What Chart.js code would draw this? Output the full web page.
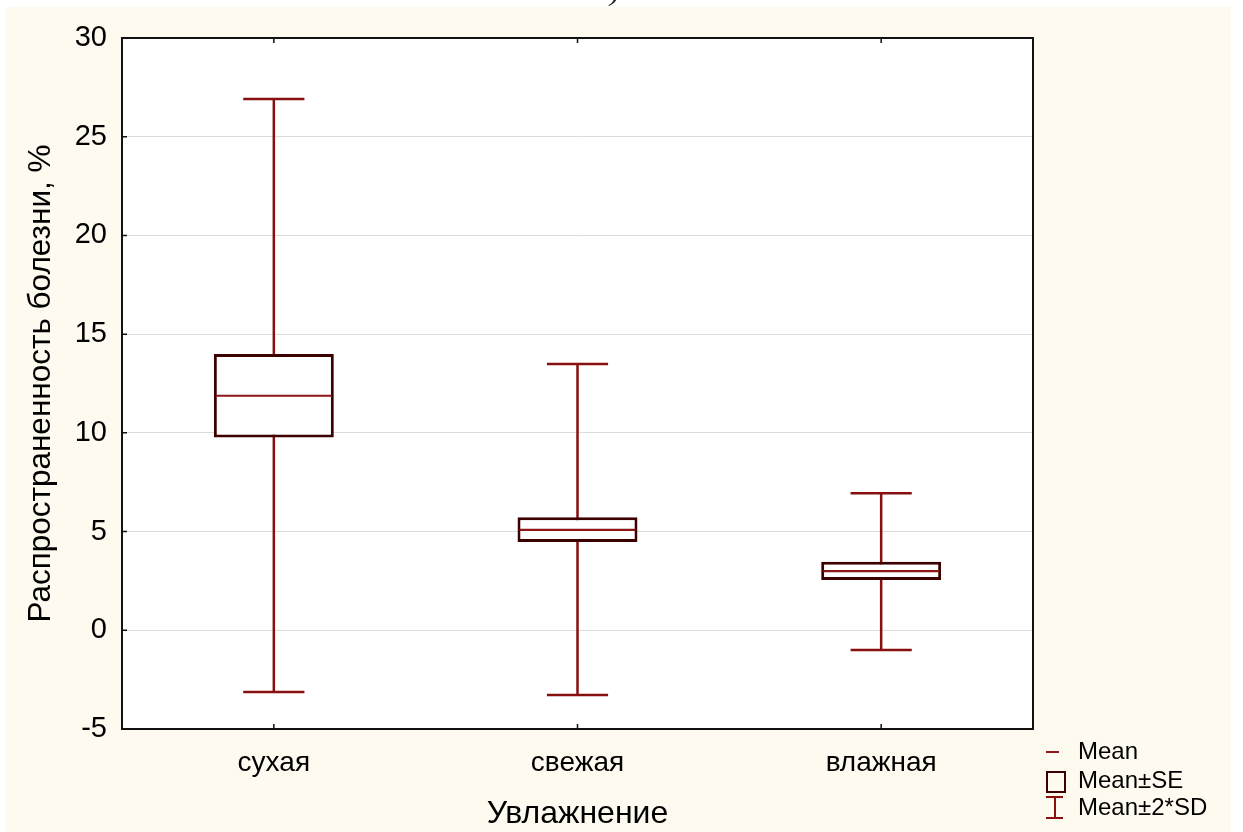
<!DOCTYPE html>
<html>
<head>
<meta charset="utf-8">
<script src="https://cdn.jsdelivr.net/npm/chart.js@4/dist/chart.umd.min.js"></script>
<style>
  html, body { margin: 0; padding: 0; background: #fff; }
  #wrap { width: 1243px; height: 832px; }
</style>
</head>
<body>
<div id="wrap"><canvas id="c" width="1243" height="832"></canvas></div>
<script>
// Disease prevalence by moisture class: mean, mean ± SE, mean ± 2*SD
const categories = ['сухая', 'свежая', 'влажная'];
const means  = [11.88, 5.09, 3.00];
const seLow  = [9.77, 4.47, 2.55];
const seHigh = [13.99, 5.72, 3.47];
const sdLow  = [-3.13, -3.28, -1.00];
const sdHigh = [26.91, 13.49, 6.94];
const yTicks = [-5, 0, 5, 10, 15, 20, 25, 30];
const legendLabels = ['Mean', 'Mean±SE', 'Mean±2*SD'];

const FONT = '"Liberation Sans", Arial, sans-serif';
const BOX_COLOR = '#3d0000';
const WHISKER_COLOR = '#880f0f';
const MEAN_COLOR = '#8e1616';
const PANEL_COLOR = '#fffaf0';

Chart.defaults.font.family = FONT;
Chart.defaults.color = '#000';

const decor = {
  id: 'decor',
  beforeDraw(chart) {
    const ctx = chart.ctx, a = chart.chartArea;
    ctx.save();
    ctx.fillStyle = '#fff';
    ctx.fillRect(0, 0, chart.width, chart.height);
    ctx.fillStyle = PANEL_COLOR;
    ctx.fillRect(6, 7, 1225, chart.height - 7);
    ctx.fillStyle = '#fff';
    ctx.fillRect(a.left, a.top, a.right - a.left, a.bottom - a.top);
    // tail of the panel caption above the frame
    ctx.fillStyle = '#222';
    ctx.font = 'italic 30px "Liberation Serif", serif';
    ctx.textBaseline = 'alphabetic';
    ctx.fillText(')', 610, 0);
    ctx.restore();
  },
  beforeDatasetsDraw(chart) {
    // whiskers: mean ± 2*SD, drawn under the boxes
    const ctx = chart.ctx, y = chart.scales.y;
    const bars = chart.getDatasetMeta(0).data;
    ctx.save();
    ctx.strokeStyle = WHISKER_COLOR;
    ctx.lineWidth = 2.5;
    bars.forEach((bar, i) => {
      const x = bar.x, hw = bar.width * 0.255;
      const yLo = y.getPixelForValue(sdLow[i]);
      const yHi = y.getPixelForValue(sdHigh[i]);
      ctx.beginPath();
      ctx.moveTo(x, yLo); ctx.lineTo(x, yHi);
      ctx.moveTo(x - hw, yLo); ctx.lineTo(x + hw, yLo);
      ctx.moveTo(x - hw, yHi); ctx.lineTo(x + hw, yHi);
      ctx.stroke();
    });
    ctx.restore();
  },
  afterDatasetsDraw(chart) {
    // mean line inside each box
    const ctx = chart.ctx, y = chart.scales.y;
    const bars = chart.getDatasetMeta(0).data;
    ctx.save();
    ctx.strokeStyle = MEAN_COLOR;
    ctx.lineWidth = 2.2;
    bars.forEach((bar, i) => {
      const ym = y.getPixelForValue(means[i]);
      ctx.beginPath();
      ctx.moveTo(bar.x - bar.width / 2 + 2, ym);
      ctx.lineTo(bar.x + bar.width / 2 - 2, ym);
      ctx.stroke();
    });
    ctx.restore();
  },
  afterDraw(chart) {
    const ctx = chart.ctx, a = chart.chartArea;
    const xs = chart.scales.x, ys = chart.scales.y;
    ctx.save();
    // frame
    ctx.strokeStyle = '#111';
    ctx.lineWidth = 2;
    ctx.strokeRect(a.left, a.top, a.right - a.left, a.bottom - a.top);
    // inner tick marks
    ctx.lineWidth = 1.5;
    ctx.beginPath();
    yTicks.forEach(v => {
      const py = ys.getPixelForValue(v);
      ctx.moveTo(a.left, py); ctx.lineTo(a.left + 5, py);
    });
    categories.forEach((c, i) => {
      const px = xs.getPixelForValue(i);
      ctx.moveTo(px, a.bottom); ctx.lineTo(px, a.bottom - 5);
      ctx.moveTo(px, a.top); ctx.lineTo(px, a.top + 5);
    });
    ctx.stroke();

    // legend
    const lx = 1046, tx = 1078;
    const rows = [752, 781, 808];
    ctx.font = '24px ' + FONT;
    ctx.fillStyle = '#000';
    ctx.textBaseline = 'middle';
    ctx.textAlign = 'left';
    legendLabels.forEach((t, i) => ctx.fillText(t, tx, rows[i]));
    // mean marker
    ctx.strokeStyle = MEAN_COLOR;
    ctx.lineWidth = 2;
    ctx.beginPath();
    ctx.moveTo(lx, 752); ctx.lineTo(lx + 13, 752);
    ctx.stroke();
    // SE box marker
    ctx.strokeStyle = BOX_COLOR;
    ctx.lineWidth = 2;
    ctx.strokeRect(lx + 1, 772, 18, 20);
    // SD whisker marker
    ctx.strokeStyle = WHISKER_COLOR;
    ctx.lineWidth = 2;
    ctx.beginPath();
    ctx.moveTo(lx + 9, 797); ctx.lineTo(lx + 9, 818);
    ctx.moveTo(lx, 797); ctx.lineTo(lx + 17, 797);
    ctx.moveTo(lx, 818); ctx.lineTo(lx + 17, 818);
    ctx.stroke();
    ctx.restore();
  }
};

new Chart(document.getElementById('c'), {
  type: 'bar',
  data: {
    labels: categories,
    datasets: [{
      label: 'Mean±SE',
      data: categories.map((c, i) => [seLow[i], seHigh[i]]),
      backgroundColor: '#fff',
      borderColor: BOX_COLOR,
      borderWidth: 3,
      borderSkipped: false,
      barPercentage: 0.395,
      categoryPercentage: 1.0
    }]
  },
  options: {
    responsive: false,
    devicePixelRatio: 1,
    animation: false,
    events: [],
    layout: { padding: { left: 6, top: 38, right: 210, bottom: 0 } },
    plugins: {
      legend: { display: false },
      tooltip: { enabled: false },
      title: { display: false }
    },
    scales: {
      x: {
        type: 'category',
        offset: true,
        grid: { display: false, drawTicks: false },
        border: { display: false },
        ticks: { font: { size: 28 }, padding: 17, color: '#000' },
        title: {
          display: true, text: 'Увлажнение',
          font: { size: 32 }, color: '#000',
          padding: { top: 0, bottom: -1 }
        },
        afterFit(s) { s.height = 103; }
      },
      y: {
        min: -5, max: 30,
        grid: { color: '#dcdcdc', lineWidth: 1, drawTicks: false },
        border: { display: false },
        ticks: { font: { size: 29 }, padding: 15, color: '#000', stepSize: 5 },
        afterBuildTicks(s) { s.ticks = yTicks.map(v => ({ value: v })); },
        title: {
          display: true, text: 'Распространенность болезни, %',
          font: { size: 31.5 }, color: '#000',
          padding: { top: 16, bottom: 0 }
        },
        afterFit(s) { s.width = 116; }
      }
    }
  },
  plugins: [decor]
});
</script>
</body>
</html>
